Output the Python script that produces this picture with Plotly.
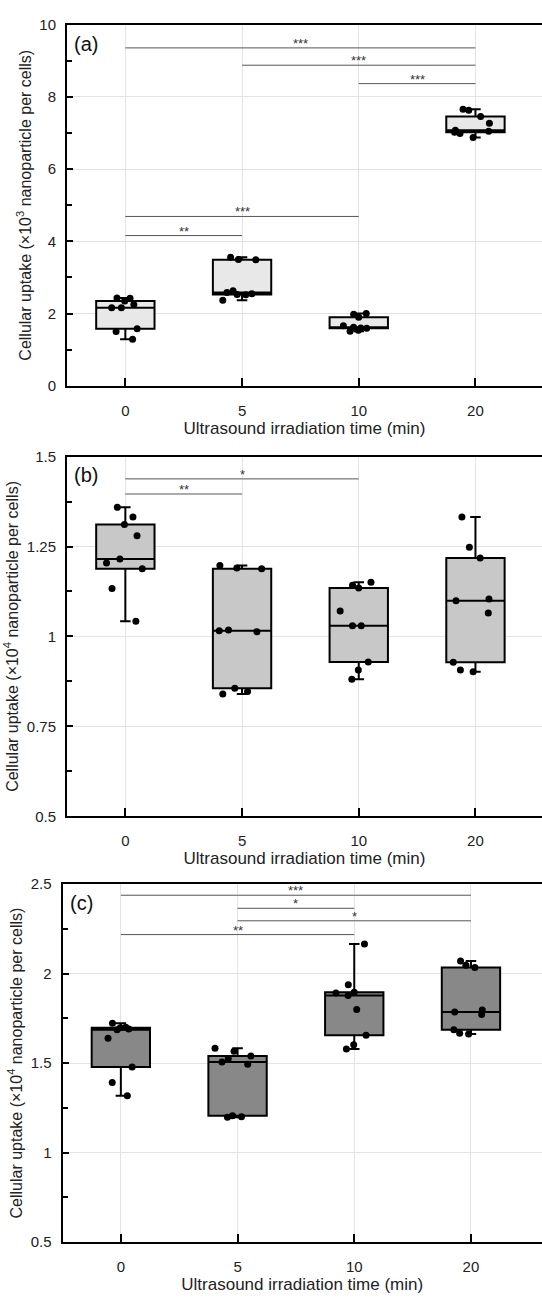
import plotly.graph_objects as go

# irradiation times (min)
categories = ["0", "5", "10", "20"]

# (a) cellular uptake, x10^3 nanoparticles per cell
a_t0 = [1.50, 2.42, 2.35, 1.58, 2.43, 2.25, 2.16, 2.16, 1.29]
a_t5 = [2.53, 3.50, 2.55, 2.63, 2.58, 3.49, 2.52, 3.56, 2.37]
a_t10 = [2.00, 1.60, 1.51, 1.90, 1.59, 1.54, 1.66, 1.98, 1.62]
a_t20 = [7.08, 6.88, 7.27, 7.63, 7.46, 7.66, 7.02, 6.99, 7.05]

# (b) cellular uptake, x10^4 nanoparticles per cell
b_t0 = [1.188, 1.311, 1.280, 1.359, 1.133, 1.204, 1.215, 1.332, 1.042]
b_t5 = [1.188, 1.197, 1.190, 1.016, 1.013, 1.018, 0.847, 0.840, 0.856]
b_t10 = [1.135, 1.142, 1.151, 1.071, 1.030, 1.030, 0.929, 0.881, 0.907]
b_t20 = [1.332, 1.248, 1.218, 1.104, 1.099, 1.065, 0.928, 0.902, 0.907]

# (c) cellular uptake, x10^4 nanoparticles per cell
c_t0 = [1.686, 1.698, 1.690, 1.638, 1.722, 1.700, 1.478, 1.392, 1.318]
c_t5 = [1.539, 1.493, 1.506, 1.524, 1.583, 1.566, 1.206, 1.197, 1.200]
c_t10 = [2.166, 1.937, 1.896, 1.891, 1.878, 1.800, 1.656, 1.603, 1.579]
c_t20 = [2.071, 2.034, 2.047, 1.785, 1.772, 1.796, 1.667, 1.686, 1.662]

# significance brackets: (from, to), height, label
sig_a_pairs = [("0", "20"), ("5", "20"), ("10", "20"), ("0", "10"), ("0", "5")]
sig_a_levels = [9.36, 8.88, 8.37, 4.69, 4.16]
sig_a_labels = ["***", "***", "***", "***", "**"]

sig_b_pairs = [("0", "10"), ("0", "5")]
sig_b_levels = [1.438, 1.396]
sig_b_labels = ["*", "**"]

sig_c_pairs = [("0", "20"), ("5", "10"), ("5", "20"), ("0", "10")]
sig_c_levels = [2.438, 2.365, 2.295, 2.218]
sig_c_labels = ["***", "*", "*", "**"]

FONT = "Arial, 'Liberation Sans', sans-serif"
W, H = 542, 1303


def px_x(p):
    return p / W


def px_y(p):
    return 1 - p / H


panels = [
    dict(tag="(a)", groups=[a_t0, a_t5, a_t10, a_t20], fill="#e8e8e8",
         sig=(sig_a_pairs, sig_a_levels, sig_a_labels),
         yrange=[0, 10], tickvals=[0, 2, 4, 6, 8, 10],
         ticktext=["0", "2", "4", "6", "8", "10"], minor=1,
         power="3", left=67, top=16, bottom=381.7),
    dict(tag="(b)", groups=[b_t0, b_t5, b_t10, b_t20], fill="#c8c8c8",
         sig=(sig_b_pairs, sig_b_levels, sig_b_labels),
         yrange=[0.5, 1.5], tickvals=[0.5, 0.75, 1, 1.25, 1.5],
         ticktext=["0.5", "0.75", "1", "1.25", "1.5"], minor=0.125,
         power="4", left=67, top=453.5, bottom=818),
    dict(tag="(c)", groups=[c_t0, c_t5, c_t10, c_t20], fill="#888888",
         sig=(sig_c_pairs, sig_c_levels, sig_c_labels),
         yrange=[0.5, 2.5], tickvals=[0.5, 1, 1.5, 2, 2.5],
         ticktext=["0.5", "1", "1.5", "2", "2.5"], minor=0.25,
         power="4", left=62.5, top=886.7, bottom=1249.3),
]

CAT_PX = 116.7  # pixel spacing between neighbouring categories

fig = go.Figure()
annotations = []
layout = {}

for i, p in enumerate(panels):
    n = "" if i == 0 else str(i + 1)
    xa, ya = "x" + n, "y" + n

    xs, ys = [], []
    for cat, vals in zip(categories, p["groups"]):
        xs += [cat] * len(vals)
        ys += vals

    fig.add_trace(go.Box(
        x=xs, y=ys, xaxis=xa, yaxis=ya,
        boxpoints="all", jitter=0.9, pointpos=0,
        width=0.5, whiskerwidth=0.18,
        fillcolor=p["fill"],
        line=dict(color="black", width=2),
        marker=dict(color="black", size=7, line=dict(width=0)),
        quartilemethod="inclusive",
        showlegend=False, hoverinfo="y",
    ))

    pairs, levels, labels = p["sig"]
    for (c0, c1), lvl, lab in zip(pairs, levels, labels):
        fig.add_trace(go.Scatter(
            x=[c0, c1], y=[lvl, lvl], xaxis=xa, yaxis=ya,
            mode="lines", line=dict(color="#555555", width=1),
            showlegend=False, hoverinfo="skip",
        ))
        mid = (categories.index(c0) + categories.index(c1)) / 2
        annotations.append(dict(
            x=mid, y=lvl, xref=xa, yref=ya, text=lab, showarrow=False,
            yanchor="bottom", yshift=-5,
            font=dict(family=FONT, size=13, color="#333333"),
        ))

    left = p["left"]
    span = (W - left) / CAT_PX
    x_dom = [px_x(left), 1.0]
    y_dom = [px_y(p["bottom"]), px_y(p["top"])]

    layout["xaxis" + n] = dict(
        domain=x_dom, anchor=ya, type="category",
        categoryorder="array", categoryarray=categories,
        range=[-0.5, -0.5 + span],
        showline=True, linecolor="black", linewidth=2, mirror=True,
        ticks="inside", ticklen=8, tickwidth=2, tickcolor="black",
        showgrid=True, gridcolor="#e3e3e3", gridwidth=1,
        zeroline=False, ticklabelstandoff=10,
        tickfont=dict(family=FONT, size=15, color="#222222"),
        title=dict(text="Ultrasound irradiation time (min)", standoff=0,
                   font=dict(family=FONT, size=17, color="#222222")),
    )
    layout["yaxis" + n] = dict(
        domain=y_dom, anchor=xa, range=p["yrange"],
        tickmode="array", tickvals=p["tickvals"], ticktext=p["ticktext"],
        showline=True, linecolor="black", linewidth=2, mirror=False,
        ticks="inside", ticklen=6, tickwidth=2, tickcolor="black",
        showgrid=True, gridcolor="#e3e3e3", gridwidth=1,
        zeroline=False, ticklabelstandoff=6,
        minor=dict(dtick=p["minor"], ticks="inside", ticklen=5, tickwidth=2,
                   tickcolor="black", showgrid=False),
        tickfont=dict(family=FONT, size=15, color="#222222"),
        title=dict(
            text="Cellular uptake (\u00d710<sup>" + p["power"]
                 + "</sup> nanoparticle per cells)",
            standoff=4, font=dict(family=FONT, size=16, color="#222222")),
    )

    annotations.append(dict(
        x=px_x(left + 5), y=px_y(p["top"] + 19), xref="paper", yref="paper",
        text=p["tag"], showarrow=False, xanchor="left", yanchor="middle",
        font=dict(family=FONT, size=20, color="#111111"),
    ))

fig.update_layout(
    width=W, height=H,
    margin=dict(l=0, r=0, t=0, b=0),
    paper_bgcolor="white", plot_bgcolor="white",
    annotations=annotations,
    **layout,
)

fig.write_html("out.html")
